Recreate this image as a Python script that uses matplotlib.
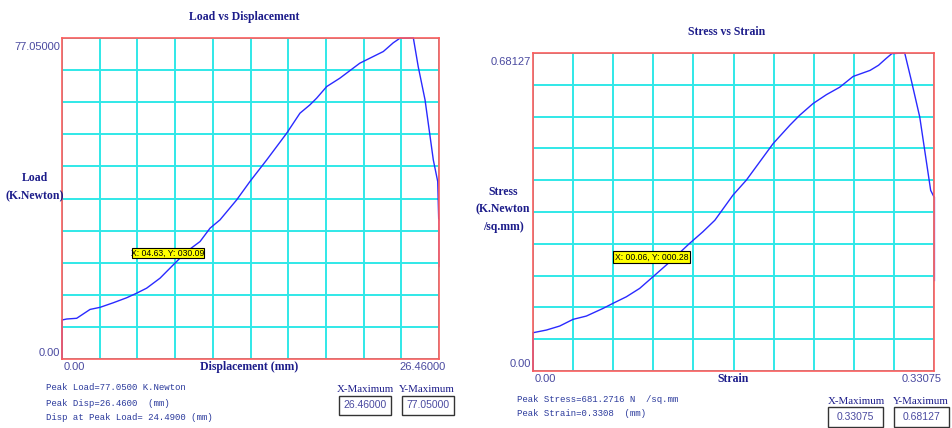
import matplotlib
matplotlib.use('Agg')
import numpy as np
from matplotlib import pyplot as plt
from matplotlib.patches import Rectangle

# load vs displacement
disp = [0.0, 0.0, 0.33, 1.03, 1.97, 2.67, 3.6, 4.54, 5.24, 5.94, 6.88, 7.81, 8.75, 9.69,
        10.39, 11.09, 12.26, 13.19, 14.37, 15.77, 16.7, 17.4, 17.87, 18.58, 19.5, 20.9,
        22.55, 23.25, 23.72, 24.49, 24.66, 25.0, 25.48, 26.06, 26.37, 26.44, 26.46]
load = [0.0, 9.36, 9.6, 9.77, 11.9, 12.4, 13.5, 14.7, 15.8, 17.0, 19.4, 22.6, 25.8, 28.2,
        31.4, 33.4, 38.2, 42.6, 47.8, 54.2, 59.0, 61.0, 62.6, 65.4, 67.4, 71.0,
        73.8, 75.9, 77.0, 77.05, 77.05, 70.2, 62.2, 47.8, 42.6, 33.4, 22.2]

# stress vs strain
strain = [0.0, 0.0, 0.011, 0.022, 0.033, 0.044, 0.0577, 0.066, 0.077, 0.088, 0.099, 0.113,
          0.129, 0.140, 0.150, 0.165, 0.176, 0.187, 0.198, 0.212, 0.220, 0.231, 0.242,
          0.253, 0.264, 0.278, 0.285, 0.291, 0.296, 0.3066, 0.312, 0.319, 0.328, 0.33075, 0.33075]
stress = [0.0, 0.082, 0.0877, 0.0963, 0.1106, 0.1177, 0.134, 0.145, 0.159, 0.177, 0.202, 0.234,
          0.273, 0.298, 0.323, 0.377, 0.409, 0.448, 0.487, 0.527, 0.548, 0.573, 0.592,
          0.608, 0.631, 0.644, 0.655, 0.669, 0.680, 0.68127, 0.623, 0.544, 0.387, 0.373, 0.195]

W, H = 953, 428
NAVY = '#1c1c8a'
TICKC = '#4a4aa0'
MONO = '#2b3a9c'

fig = plt.figure(figsize=(W / 100, H / 100), dpi=100)
fig.patch.set_facecolor('white')

def px(x, y):
    return x / W, 1 - y / H

def ftext(x, y, s, **kw):
    fx, fy = px(x, y)
    return fig.text(fx, fy, s, **kw)

serif = ['Liberation Serif', 'DejaVu Serif']
narrow = ['Liberation Sans Narrow', 'Liberation Sans', 'DejaVu Sans']
mono = ['Liberation Mono', 'DejaVu Sans Mono']

def panel(box, xs, ys, xmax, ymax):
    l, t, r, b = box
    fl, fb = px(l, b)
    ax = fig.add_axes([fl, fb, (r - l) / W, (b - t) / H])
    ax.set_xlim(0, xmax)
    ax.set_ylim(0, ymax)
    ax.set_xticks(np.linspace(0, xmax, 11))
    ax.set_yticks(np.linspace(0, ymax, 11))
    ax.tick_params(length=0, labelbottom=False, labelleft=False)
    ax.grid(True, color='#30e8e8', lw=1.4)
    for s in ax.spines.values():
        s.set_color('#ff5a5a')
        s.set_linewidth(1.2)
    ax.plot(xs[:-1], ys[:-1], color='#2a2aff', lw=1.0, clip_on=False)
    ax.plot(xs[-2:], ys[-2:], color='#8080ff', lw=1.0, clip_on=False)
    return ax

def yellow_tag(x0, y0, x1, y1, s):
    fx, fy = px(x0, y1)
    fig.patches.append(Rectangle((fx, fy), (x1 - x0) / W, (y1 - y0) / H,
                                 transform=fig.transFigure, facecolor='#ffff00',
                                 edgecolor='black', lw=0.8, zorder=5))
    ftext((x0 + x1) / 2, (y0 + y1) / 2 + 0.5, s, family=narrow, fontsize=6.2,
          va='center', ha='center', zorder=6)

def max_box(cx, y_lab, x0, x1, y0, y1, lab, val):
    ftext(cx, y_lab, lab, family=serif, fontsize=7.8, ha='center', va='center', color=NAVY)
    fx, fy = px(x0, y1)
    fig.patches.append(Rectangle((fx, fy), (x1 - x0) / W, (y1 - y0) / H,
                                 transform=fig.transFigure, facecolor='white',
                                 edgecolor='#333333', lw=1.0))
    ftext((x0 + x1) / 2, (y0 + y1) / 2, val, family=narrow, fontsize=7.5,
          ha='center', va='center', color=TICKC)

TK = 8

# ---- left panel
panel((62, 38, 439, 359), disp, load, 26.46, 77.05)
ftext(244, 17, 'Load vs Displacement', family=serif, weight='bold', fontsize=8.5,
      ha='center', va='center', color=NAVY)
ftext(60, 47, '77.05000', family=narrow, fontsize=TK, ha='right', va='center', color=TICKC)
ftext(60, 353, '0.00', family=narrow, fontsize=TK, ha='right', va='center', color=TICKC)
ftext(35, 178, 'Load', family=serif, weight='bold', fontsize=8.5, ha='center', va='center', color=NAVY)
ftext(35, 196, '(K.Newton)', family=serif, weight='bold', fontsize=8.5, ha='center', va='center', color=NAVY)
ftext(64, 367, '0.00', family=narrow, fontsize=TK, ha='left', va='center', color=TICKC)
ftext(249, 367, 'Displacement (mm)', family=serif, weight='bold', fontsize=8.5,
      ha='center', va='center', color=NAVY)
ftext(446, 367, '26.46000', family=narrow, fontsize=TK, ha='right', va='center', color=TICKC)
ftext(46, 388, 'Peak Load=77.0500 K.Newton', family=mono, fontsize=6.5, va='center', color=MONO)
ftext(46, 403, 'Peak Disp=26.4600  (mm)', family=mono, fontsize=6.5, va='center', color=MONO)
ftext(46, 418, 'Disp at Peak Load= 24.4900 (mm)', family=mono, fontsize=6.5, va='center', color=MONO)
max_box(365, 390, 339, 391, 396, 415, 'X-Maximum', '26.46000')
max_box(427, 390, 402, 454, 396, 415, 'Y-Maximum', '77.05000')
yellow_tag(132, 248, 204, 258, 'X: 04.63, Y: 030.09')

# ---- right panel
panel((533, 53, 934, 371), strain, stress, 0.33075, 0.68127)
ftext(727, 32, 'Stress vs Strain', family=serif, weight='bold', fontsize=8.5,
      ha='center', va='center', color=NAVY)
ftext(531, 62, '0.68127', family=narrow, fontsize=TK, ha='right', va='center', color=TICKC)
ftext(531, 364, '0.00', family=narrow, fontsize=TK, ha='right', va='center', color=TICKC)
ftext(503, 192, 'Stress', family=serif, weight='bold', fontsize=8.5, ha='center', va='center', color=NAVY)
ftext(503, 209, '(K.Newton', family=serif, weight='bold', fontsize=8.5, ha='center', va='center', color=NAVY)
ftext(503, 227, '/sq.mm)', family=serif, weight='bold', fontsize=8.5, ha='center', va='center', color=NAVY)
ftext(535, 379, '0.00', family=narrow, fontsize=TK, ha='left', va='center', color=TICKC)
ftext(733, 379, 'Strain', family=serif, weight='bold', fontsize=8.5, ha='center', va='center', color=NAVY)
ftext(942, 379, '0.33075', family=narrow, fontsize=TK, ha='right', va='center', color=TICKC)
ftext(517, 400, 'Peak Stress=681.2716 N  /sq.mm', family=mono, fontsize=6.5, va='center', color=MONO)
ftext(517, 414, 'Peak Strain=0.3308  (mm)', family=mono, fontsize=6.5, va='center', color=MONO)
max_box(856, 402, 828, 883, 407, 427, 'X-Maximum', '0.33075')
max_box(921, 402, 894, 949, 407, 427, 'Y-Maximum', '0.68127')
yellow_tag(613, 251, 690, 263, 'X: 00.06, Y: 000.28')

fig.savefig('out.png', dpi=100)
